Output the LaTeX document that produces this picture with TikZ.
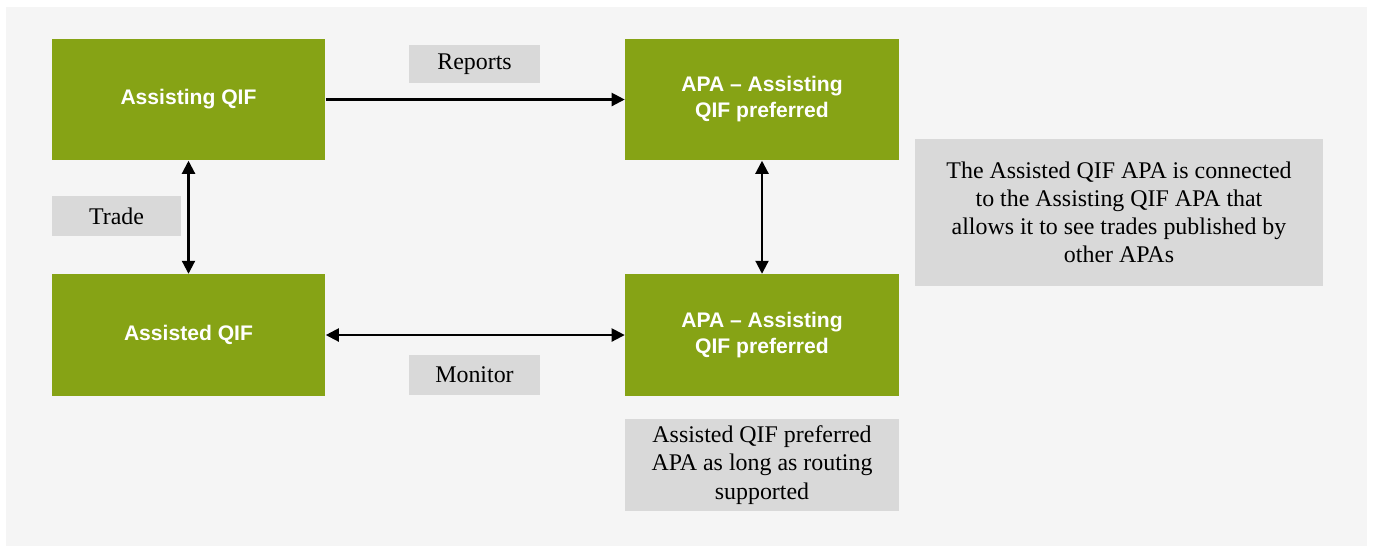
\documentclass[tikz,border=0pt]{standalone}
\usepackage{fontspec}
\setmainfont{Liberation Serif}
\newfontfamily\boxfont{Liberation Sans}
\usetikzlibrary{arrows.meta}
\definecolor{qifgreen}{RGB}{134,163,21}
\definecolor{notegray}{RGB}{217,217,217}
\definecolor{pagegray}{RGB}{245,245,245}
\tikzset{
    party/.style={
        fill=qifgreen,
        text=white,
        font=\boxfont\bfseries\fontsize{6.0}{7.4}\selectfont,
        align=center,
        minimum width=2.73cm,
        minimum height=1.21cm,
        inner sep=0pt
    },
    tag/.style={
        fill=notegray,
        font=\fontsize{6.8}{8}\selectfont,
        align=center,
        inner sep=0pt
    },
    link/.style={
        line width=0.6pt,
        -{Triangle[length=3.7pt,width=3.7pt]}
    },
    twoway/.style={
        line width=0.6pt,
        {Triangle[length=3.7pt,width=3.7pt]}-{Triangle[length=3.7pt,width=3.7pt]}
    }
}

\begin{document}
\begin{tikzpicture}[x=0.01cm,y=-0.01cm]
  \useasboundingbox (0,0) rectangle (1373,547);
  \fill[pagegray] (6,7) rectangle (1367,546);

  \node[party] at (188.5,99.5) (assisting) {Assisting QIF};
  \node[party] at (762,99.5) (apatop) {APA – Assisting\\ QIF preferred};
  \node[party] at (188.5,335) (assisted) {Assisted QIF};
  \node[party] at (762,335) (apabot) {APA – Assisting\\ QIF preferred};

  \node[tag,minimum width=1.31cm,minimum height=0.38cm] at (474.5,64) (reports) {Reports};
  \node[tag,minimum width=1.29cm,minimum height=0.40cm] at (116.5,216) (trade) {Trade};
  \node[tag,minimum width=1.31cm,minimum height=0.40cm] at (474.5,375) (monitor) {Monitor};
  \node[tag,minimum width=4.08cm,minimum height=1.47cm] at (1119,212.5) (connected)
    {The Assisted QIF APA is connected\\ to the Assisting QIF APA that\\ allows it to see trades published by\\ other APAs};
  \node[tag,minimum width=2.73cm,minimum height=0.92cm] at (762,465) (routing)
    {Assisted QIF preferred\\ APA as long as routing\\ supported};

  \draw[link] (assisting) -- (apatop);
  \draw[twoway] (assisting) -- (assisted);
  \draw[twoway] (apatop) -- (apabot);
  \draw[twoway] (assisted) -- (apabot);
\end{tikzpicture}
\end{document}
